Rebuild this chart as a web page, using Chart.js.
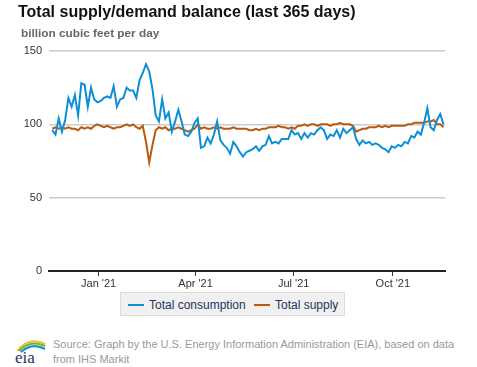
<!DOCTYPE html>
<html>
<head>
<meta charset="utf-8">
<script src="https://cdn.jsdelivr.net/npm/chart.js@4.4.0/dist/chart.umd.min.js"></script>
<style>
  body { margin: 0; background: #fff; font-family: "Liberation Sans", Arial, sans-serif; }
  #wrap { position: relative; width: 477px; height: 367px; overflow: hidden; }
  #title { position: absolute; left: 18px; top: 3px; font-size: 16px; font-weight: bold; color: #111; white-space: nowrap; }
  #subtitle { position: absolute; left: 21px; top: 26px; font-size: 11.8px; font-weight: bold; color: #666; white-space: nowrap; }
  #chartBox { position: absolute; left: 0; top: 0; width: 477px; height: 301px; }
  #legend { position: absolute; left: 120px; top: 292px; width: 225px; height: 24px; background: #f0f0f0; border: 1px solid #dcdcdc; box-sizing: border-box; font-size: 12px; color: #1c355e; white-space: nowrap; }
  .item { position: absolute; top: 5px; }
  .swatch { display: inline-block; width: 16px; height: 2px; vertical-align: middle; margin-right: 5px; position: relative; top: -1px; }
  #source { position: absolute; left: 53px; top: 337px; font-size: 11px; line-height: 15px; color: #999; white-space: nowrap; }
  #logo { position: absolute; left: 13px; top: 334px; }
</style>
</head>
<body>
<div id="wrap">
  <div id="chartBox"><canvas id="balanceChart"></canvas></div>
  <div id="title">Total supply/demand balance (last 365 days)</div>
  <div id="subtitle">billion cubic feet per day</div>
  <div id="legend">
    <span class="item" style="left:7px"><span class="swatch" style="background:#0d8fd6"></span>Total consumption</span>
    <span class="item" style="left:133px"><span class="swatch" style="background:#b85a0f"></span>Total supply</span>
  </div>
  <svg id="logo" width="36" height="32" viewBox="0 0 36 32">
    <path d="M4 17 Q16 2 32 10" fill="none" stroke="#f2c21b" stroke-width="2"/>
    <path d="M6 17 Q17 5 32 12" fill="none" stroke="#6bb33f" stroke-width="2"/>
    <path d="M8 18 Q19 8 32 15" fill="none" stroke="#1a8fd0" stroke-width="2"/>
    <text x="2" y="29" font-family="Liberation Serif, serif" font-size="17" fill="#1c355e">eia</text>
  </svg>
  <div id="source">Source: Graph by the U.S. Energy Information Administration (EIA), based on data<br>from IHS Markit</div>
</div>
<script>
// one value every 3 days, starting 19 Nov 2020
const stepDays = 3;

const consumption = [
  96, 93, 104, 95, 103, 118, 112, 120, 106, 128,
  127, 112, 125, 117, 115, 116, 118, 119, 118, 126,
  112, 117, 118, 125, 123, 123, 118, 130, 135, 141,
  136, 124, 106, 102, 117, 104, 108, 95, 102, 110,
  102, 93, 92, 95, 101, 104, 84, 85, 91, 87,
  93, 102, 89, 86, 84, 80, 88, 85, 81, 78,
  81, 82, 83, 85, 82, 85, 86, 92, 87, 88,
  87, 90, 90, 90, 96, 93, 94, 90, 94, 91,
  94, 93, 96, 98, 96, 90, 93, 92, 96, 91,
  97, 94, 96, 98, 90, 86, 89, 87, 88, 86,
  87, 86, 84, 83, 81, 85, 84, 86, 85, 88,
  87, 92, 91, 95, 93, 101, 111, 98, 96, 103,
  107, 100
];

const supply = [
  97, 98, 97, 98, 97, 98, 97, 97, 96, 98,
  97, 98, 97, 99, 100, 99, 98, 99, 98, 97,
  98, 98, 99, 100, 99, 100, 98, 97, 99, 88,
  74, 86, 96, 98, 97, 98, 96, 97, 97, 98,
  97, 96, 95, 96, 97, 100, 97, 98, 97, 97,
  98, 97, 98, 97, 97, 97, 98, 97, 97, 97,
  97, 96, 96, 97, 96, 97, 97, 98, 98, 98,
  99, 98, 98, 97, 98, 97, 99, 99, 100, 99,
  100, 100, 99, 100, 100, 100, 99, 100, 100, 101,
  100, 100, 100, 99, 95, 96, 97, 97, 98, 98,
  98, 99, 98, 99, 98, 99, 99, 99, 99, 99,
  100, 100, 101, 101, 101, 101, 102, 102, 103, 100,
  100, 98
];

// x ticks, in days from the first value
const tickDays = [43, 133, 224, 316];
const tickLabels = ["Jan '21", "Apr '21", "Jul '21", "Oct '21"];

const yTicks = [0, 50, 100, 150];

const toPoints = arr => arr.map((v, i) => ({ x: i * stepDays, y: v }));

const ctx = document.getElementById('balanceChart').getContext('2d');

const config = {
    type: 'line',
    data: {
        datasets: [
            {
                label: 'Total consumption',
                data: toPoints(consumption),
                borderColor: '#0d8fd6',
                backgroundColor: '#0d8fd6',
                borderWidth: 2,
                tension: 0,
                pointRadius: 0
            },
            {
                label: 'Total supply',
                data: toPoints(supply),
                borderColor: '#b85a0f',
                backgroundColor: '#b85a0f',
                borderWidth: 2,
                tension: 0,
                pointRadius: 0
            }
        ]
    },
    options: {
        responsive: false,
        animation: false,
        layout: { padding: { left: 0, right: 32, top: 51, bottom: 0 } },
        plugins: {
            legend: { display: false },
            tooltip: { enabled: false }
        },
        scales: {
            x: {
                type: 'linear',
                min: -3,
                max: 364.4,
                afterBuildTicks: scale => { scale.ticks = tickDays.map(v => ({ value: v })); },
                afterFit: scale => { scale.height = 30; },
                grid: { drawOnChartArea: false, drawTicks: true, tickLength: 5, color: '#333' },
                border: { display: true, color: '#222', width: 2 },
                ticks: {
                    autoSkip: false,
                    maxRotation: 0,
                    padding: 1,
                    color: '#333',
                    font: { family: 'Liberation Sans', size: 11 },
                    callback: v => tickLabels[tickDays.indexOf(v)]
                }
            },
            y: {
                min: 0,
                max: 150,
                afterBuildTicks: scale => { scale.ticks = yTicks.map(v => ({ value: v })); },
                afterFit: scale => { scale.width = 49; },
                grid: { color: c => c.tick.value === 0 ? 'rgba(0,0,0,0)' : '#cccccc', drawTicks: false, lineWidth: 1.5 },
                border: { display: false },
                ticks: {
                    padding: 7,
                    color: '#333',
                    font: { family: 'Liberation Sans', size: 11 }
                }
            }
        }
    }
};

const canvas = document.getElementById('balanceChart');
canvas.width = 477;
canvas.height = 301;
const balanceChart = new Chart(ctx, config);
</script>
</body>
</html>
